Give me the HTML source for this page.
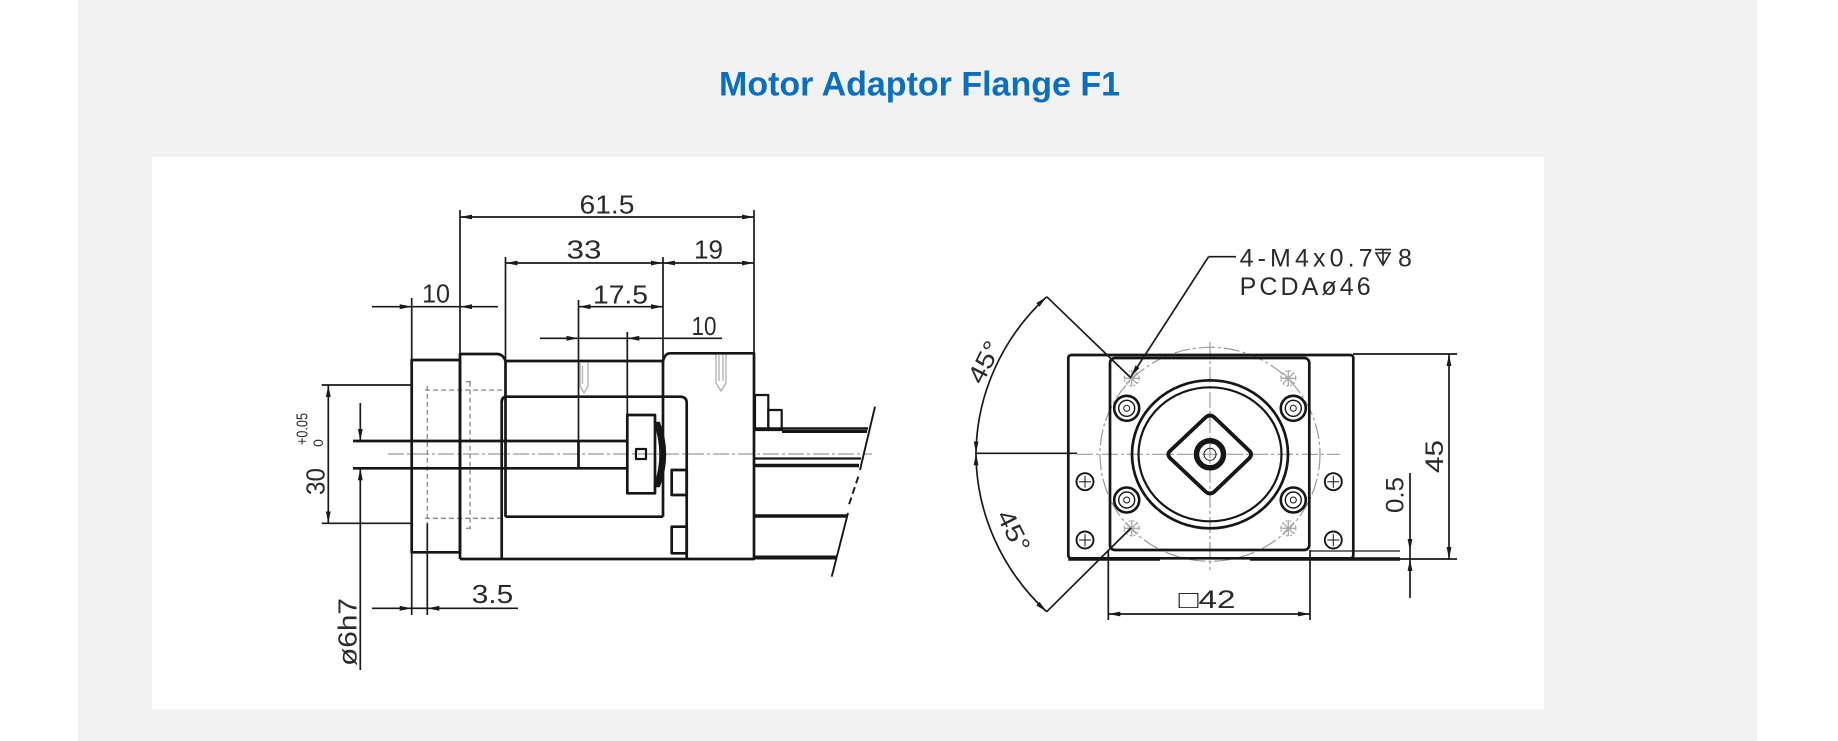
<!DOCTYPE html>
<html>
<head>
<meta charset="utf-8">
<style>
html,body{margin:0;padding:0;background:#ffffff;}
body{width:1838px;height:741px;position:relative;overflow:hidden;}
#gray{position:absolute;left:78px;top:0;width:1679px;height:741px;background:#f2f2f2;}
#panel{position:absolute;left:152px;top:157px;width:1392px;height:552px;background:#ffffff;}
svg{position:absolute;left:0;top:0;}
</style>
</head>
<body>
<div id="gray"></div>
<div id="panel"></div>
<svg width="1838" height="741" viewBox="0 0 1838 741" xmlns="http://www.w3.org/2000/svg">
<defs>
<marker id="ar" viewBox="0 0 12 6" refX="12" refY="3" markerWidth="12" markerHeight="6" markerUnits="userSpaceOnUse" orient="auto-start-reverse">
<path d="M0,0.6 L12,3 L0,5.4 z" fill="#1a1a1a"/>
</marker>
</defs>

<!-- Title -->
<text x="919.5" y="95.5" text-anchor="middle" font-family="Liberation Sans, sans-serif" font-weight="bold" font-size="34" fill="#0b6fc0" textLength="401" lengthAdjust="spacingAndGlyphs">Motor Adaptor Flange F1</text>

<!-- ============ LEFT VIEW ============ -->
<line x1="388" y1="454" x2="872" y2="454" stroke="#9a9a9a" stroke-width="1.2" stroke-dasharray="16,3,3,3"/>

<g stroke="#8a8a8a" stroke-width="1.3" fill="none" stroke-dasharray="5,3">
<line x1="427.3" y1="386" x2="427.3" y2="523"/>
<line x1="470" y1="381.7" x2="470" y2="528.3"/>
<line x1="425" y1="390" x2="502" y2="390"/>
<line x1="425" y1="518.3" x2="502" y2="518.3"/>
<line x1="466" y1="381.7" x2="474" y2="381.7"/>
<line x1="466" y1="528.3" x2="474" y2="528.3"/>
</g>

<g stroke="#b4b4b4" stroke-width="1.4" fill="none">
<line x1="580" y1="363" x2="580" y2="386"/>
<line x1="588" y1="363" x2="588" y2="386"/>
<line x1="582.5" y1="366" x2="582.5" y2="384"/>
<path d="M580,386 L584,393 L588,386"/>
<line x1="716" y1="352" x2="716" y2="383"/>
<line x1="726" y1="352" x2="726" y2="383"/>
<line x1="719" y1="355" x2="719" y2="381"/>
<line x1="723" y1="355" x2="723" y2="381"/>
<path d="M716,383 L721,391 L726,383"/>
</g>

<g stroke="#161616" stroke-width="2.7" fill="none" stroke-linejoin="round">
<rect x="411.7" y="360" width="48.3" height="192.3"/>
<path d="M460,559 V354 H497 Q503,354 505.5,361 H663 Q665,353.3 670,353.3 H754 V559 H460"/>
<path d="M501.7,559 V402 Q501.7,396.7 507,396.7 H680 Q686.7,396.7 686.7,403 V559"/>
<line x1="505.5" y1="361" x2="505.5" y2="516.7"/>
<line x1="663" y1="361" x2="663" y2="516.7"/>
<line x1="505.5" y1="516.7" x2="663" y2="516.7"/>
<line x1="353" y1="441" x2="627.3" y2="441"/>
<line x1="353" y1="468.3" x2="627.3" y2="468.3"/>
<line x1="578.5" y1="441" x2="578.5" y2="468.3"/>
<rect x="627.3" y="415" width="27.7" height="78.3"/>
<rect x="671.7" y="470" width="15" height="25"/>
<rect x="671.7" y="526.7" width="15" height="26.6"/>
<rect x="636" y="449" width="10" height="10" stroke-width="2.2"/>
<rect x="755" y="395" width="13.3" height="35" stroke-width="2.2"/>
<rect x="768.3" y="410" width="13.4" height="20" stroke-width="2.2"/>
</g>
<path d="M655,423 Q666,454 655,486 L659,486 Q671,454 659,423 z" fill="#161616" stroke="#161616" stroke-width="2.4"/>

<g stroke="#161616" fill="none">
<line x1="754" y1="428.5" x2="868" y2="428.5" stroke-width="2.4"/>
<line x1="782" y1="431.5" x2="867" y2="431.5" stroke-width="3"/>
<line x1="754" y1="458.5" x2="861" y2="458.5" stroke-width="2.2"/>
<line x1="754" y1="465.5" x2="859" y2="465.5" stroke-width="3.5"/>
<line x1="754" y1="516" x2="847" y2="516" stroke-width="3.5"/>
<line x1="754" y1="557.5" x2="837" y2="557.5" stroke-width="4"/>
<line x1="875" y1="406.7" x2="860" y2="470" stroke-width="1.9"/>
<line x1="858.3" y1="476.7" x2="848.3" y2="506.7" stroke-width="1.9" stroke-dasharray="7,4"/>
<line x1="848" y1="513" x2="831.7" y2="576.7" stroke-width="1.9"/>
</g>

<g stroke="#1a1a1a" stroke-width="1.7" fill="none">
<line x1="460" y1="210" x2="460" y2="354"/>
<line x1="754" y1="210" x2="754" y2="353.3"/>
<line x1="505.5" y1="257" x2="505.5" y2="361"/>
<line x1="663" y1="257" x2="663" y2="361"/>
<line x1="411.7" y1="298" x2="411.7" y2="360"/>
<line x1="411.7" y1="552.3" x2="411.7" y2="615"/>
<line x1="427.3" y1="523.3" x2="427.3" y2="615"/>
<line x1="578.5" y1="300" x2="578.5" y2="441"/>
<line x1="627.3" y1="332" x2="627.3" y2="415"/>
<line x1="321.7" y1="385" x2="411.7" y2="385"/>
<line x1="321.7" y1="523.3" x2="411.7" y2="523.3"/>

<line x1="460" y1="217" x2="754" y2="217" marker-start="url(#ar)" marker-end="url(#ar)"/>
<line x1="505.5" y1="263" x2="663" y2="263" marker-start="url(#ar)" marker-end="url(#ar)"/>
<line x1="663" y1="263" x2="754" y2="263" marker-start="url(#ar)" marker-end="url(#ar)"/>
<line x1="578.5" y1="306.7" x2="663" y2="306.7" marker-start="url(#ar)" marker-end="url(#ar)"/>
<line x1="372" y1="306.7" x2="411.7" y2="306.7" marker-end="url(#ar)"/>
<line x1="498" y1="306.7" x2="460" y2="306.7" marker-end="url(#ar)"/>
<line x1="411.7" y1="306.7" x2="460" y2="306.7"/>
<line x1="540" y1="338.3" x2="578.5" y2="338.3" marker-end="url(#ar)"/>
<line x1="722" y1="338.3" x2="627.3" y2="338.3" marker-end="url(#ar)"/>
<line x1="578.5" y1="338.3" x2="627.3" y2="338.3"/>
<line x1="328.3" y1="385" x2="328.3" y2="523.3" marker-start="url(#ar)" marker-end="url(#ar)"/>
<line x1="360.3" y1="403" x2="360.3" y2="441" marker-end="url(#ar)"/>
<line x1="360.3" y1="670" x2="360.3" y2="468.3" marker-end="url(#ar)"/>
<line x1="372" y1="608.3" x2="411.7" y2="608.3" marker-end="url(#ar)"/>
<line x1="518" y1="608.3" x2="427.3" y2="608.3" marker-end="url(#ar)"/>
<line x1="411.7" y1="608.3" x2="427.3" y2="608.3"/>
</g>

<g font-family="Liberation Sans, sans-serif" font-size="26" fill="#2a2a2a" text-anchor="middle">
<text x="607" y="213.5" textLength="55" lengthAdjust="spacingAndGlyphs">61.5</text>
<text x="584" y="258.5" textLength="35" lengthAdjust="spacingAndGlyphs">33</text>
<text x="708.5" y="258.5" textLength="29" lengthAdjust="spacingAndGlyphs">19</text>
<text x="436" y="302.5" textLength="28" lengthAdjust="spacingAndGlyphs">10</text>
<text x="620.5" y="303.5" textLength="55" lengthAdjust="spacingAndGlyphs">17.5</text>
<text x="704" y="335" textLength="25" lengthAdjust="spacingAndGlyphs">10</text>
<text x="492.5" y="603" textLength="41.5" lengthAdjust="spacingAndGlyphs">3.5</text>
<text transform="translate(324.5,481.5) rotate(-90)" textLength="27" lengthAdjust="spacingAndGlyphs">30</text>
<text transform="translate(307.5,429) rotate(-90)" font-size="16" textLength="32" lengthAdjust="spacingAndGlyphs">+0.05</text>
<text transform="translate(323,443) rotate(-90)" font-size="14">0</text>
<text transform="translate(356.5,632) rotate(-90)" textLength="68" lengthAdjust="spacingAndGlyphs">ø6h7</text>
</g>

<!-- ============ RIGHT VIEW ============ -->
<g stroke="#9a9a9a" stroke-width="1.2" fill="none" stroke-dasharray="16,3,3,3">
<line x1="1077" y1="454.3" x2="1340" y2="454.3"/>
<line x1="1210" y1="342" x2="1210" y2="570"/>
<ellipse cx="1210" cy="454.3" rx="110" ry="107"/>
</g>

<g stroke="#161616" stroke-width="2.7" fill="none" stroke-linejoin="round">
<rect x="1068.3" y="355" width="285" height="203.3" rx="3"/>
<rect x="1110" y="358" width="199.3" height="192" rx="5"/>
<ellipse cx="1210" cy="454.3" rx="78" ry="74"/>
<ellipse cx="1210" cy="454.3" rx="71.5" ry="67" stroke-width="2.2"/>
<path d="M1170,451 L1206,417 Q1210,414 1214,417 L1249.5,451 Q1252.7,454.3 1249.5,458 L1214,492 Q1210,495 1206,492 L1170,458 Q1166.7,454.3 1170,451 z" stroke-width="3.8"/>
<circle cx="1210" cy="454.3" r="13.5" stroke-width="5.5"/>
<circle cx="1210" cy="454.3" r="6" stroke-width="1"/>
</g>
<line x1="1068.3" y1="559" x2="1160" y2="559" stroke="#161616" stroke-width="3.5"/>
<line x1="1250" y1="559" x2="1400" y2="559" stroke="#161616" stroke-width="3.5"/>

<g stroke="#161616" fill="none">
<circle cx="1126.7" cy="408.3" r="12.5" stroke-width="2.6"/><circle cx="1126.7" cy="408.3" r="8" stroke-width="1.4"/><circle cx="1126.7" cy="408.3" r="3" stroke-width="1"/>
<circle cx="1293.3" cy="408.3" r="12.5" stroke-width="2.6"/><circle cx="1293.3" cy="408.3" r="8" stroke-width="1.4"/><circle cx="1293.3" cy="408.3" r="3" stroke-width="1"/>
<circle cx="1126.7" cy="500" r="12.5" stroke-width="2.6"/><circle cx="1126.7" cy="500" r="8" stroke-width="1.4"/><circle cx="1126.7" cy="500" r="3" stroke-width="1"/>
<circle cx="1293.3" cy="500" r="12.5" stroke-width="2.6"/><circle cx="1293.3" cy="500" r="8" stroke-width="1.4"/><circle cx="1293.3" cy="500" r="3" stroke-width="1"/>
<g stroke-width="1.9">
<circle cx="1085" cy="481.7" r="8.5"/><path d="M1079,481.7 H1091 M1085,475.7 V487.7" stroke-width="1"/>
<circle cx="1085" cy="540" r="8.5"/><path d="M1079,540 H1091 M1085,534 V546" stroke-width="1"/>
<circle cx="1333.3" cy="481.7" r="8.5"/><path d="M1327.3,481.7 H1339.3 M1333.3,475.7 V487.7" stroke-width="1"/>
<circle cx="1333.3" cy="540" r="8.5"/><path d="M1327.3,540 H1339.3 M1333.3,534 V546" stroke-width="1"/>
</g>
</g>

<g stroke="#a8a8a8" stroke-width="1.3" fill="none">
<g transform="translate(1131.7,378.3)"><circle r="7.5" stroke-dasharray="2,2"/><path d="M-8,0 H8 M0,-8 V8 M-5.5,-5.5 L5.5,5.5 M-5.5,5.5 L5.5,-5.5"/></g>
<g transform="translate(1288.3,378.3)"><circle r="7.5" stroke-dasharray="2,2"/><path d="M-8,0 H8 M0,-8 V8 M-5.5,-5.5 L5.5,5.5 M-5.5,5.5 L5.5,-5.5"/></g>
<g transform="translate(1131.7,528.3)"><circle r="7.5" stroke-dasharray="2,2"/><path d="M-8,0 H8 M0,-8 V8 M-5.5,-5.5 L5.5,5.5 M-5.5,5.5 L5.5,-5.5"/></g>
<g transform="translate(1288.3,528.3)"><circle r="7.5" stroke-dasharray="2,2"/><path d="M-8,0 H8 M0,-8 V8 M-5.5,-5.5 L5.5,5.5 M-5.5,5.5 L5.5,-5.5"/></g>
</g>

<g stroke="#1a1a1a" stroke-width="1.7" fill="none">
<line x1="1353" y1="354" x2="1457" y2="354"/>
<line x1="1353" y1="559" x2="1457" y2="559"/>
<line x1="1449" y1="354" x2="1449" y2="559" marker-start="url(#ar)" marker-end="url(#ar)"/>
<line x1="1310" y1="551" x2="1400" y2="551" stroke-width="1.2"/>
<line x1="1410" y1="473" x2="1410" y2="551" marker-end="url(#ar)"/>
<line x1="1410" y1="598" x2="1410" y2="559" marker-end="url(#ar)"/>
<line x1="1410" y1="551" x2="1410" y2="559"/>
<line x1="1108.3" y1="550" x2="1108.3" y2="620"/>
<line x1="1310" y1="550" x2="1310" y2="620"/>
<line x1="1108.3" y1="614" x2="1310" y2="614" marker-start="url(#ar)" marker-end="url(#ar)"/>
<line x1="975" y1="453.3" x2="1077" y2="453.3"/>
<path d="M976,453.3 A234,222 0 0 1 1046.7,296.7" marker-start="url(#ar)" marker-end="url(#ar)"/>
<path d="M976,453.3 A234,222 0 0 0 1046.7,611.7" marker-start="url(#ar)" marker-end="url(#ar)"/>
<line x1="1046.7" y1="296.7" x2="1131" y2="378"/>
<line x1="1046.7" y1="611.7" x2="1131" y2="528"/>
<line x1="1236" y1="256.7" x2="1208.6" y2="256.7"/>
<line x1="1208.6" y1="256.7" x2="1131" y2="376.7" marker-end="url(#ar)"/>
</g>

<g font-family="Liberation Sans, sans-serif" font-size="25" fill="#2a2a2a">
<text x="1239.6" y="266.5" textLength="133" lengthAdjust="spacing">4-M4x0.7</text>
<text x="1398" y="266.5">8</text>
<text x="1239.6" y="295" textLength="131" lengthAdjust="spacing">PCDAø46</text>
<g text-anchor="middle">
<text transform="translate(1443,456.5) rotate(-90)" textLength="33" lengthAdjust="spacingAndGlyphs">45</text>
<text transform="translate(1403.5,495) rotate(-90)" textLength="36" lengthAdjust="spacingAndGlyphs">0.5</text>
<text x="1207" y="608" textLength="57" lengthAdjust="spacingAndGlyphs">□42</text>
<text transform="translate(992,366) rotate(-63)" textLength="44" lengthAdjust="spacingAndGlyphs">45°</text>
<text transform="translate(1006,535) rotate(63)" textLength="44" lengthAdjust="spacingAndGlyphs">45°</text>
</g>
</g>
<g stroke="#2a2a2a" stroke-width="1.6" fill="none">
<line x1="1375" y1="249.5" x2="1391" y2="249.5"/>
<path d="M1376,253 L1383,265 L1390,253 z"/>
<line x1="1383" y1="249.5" x2="1383" y2="265"/>
</g>
</svg>
</body>
</html>
